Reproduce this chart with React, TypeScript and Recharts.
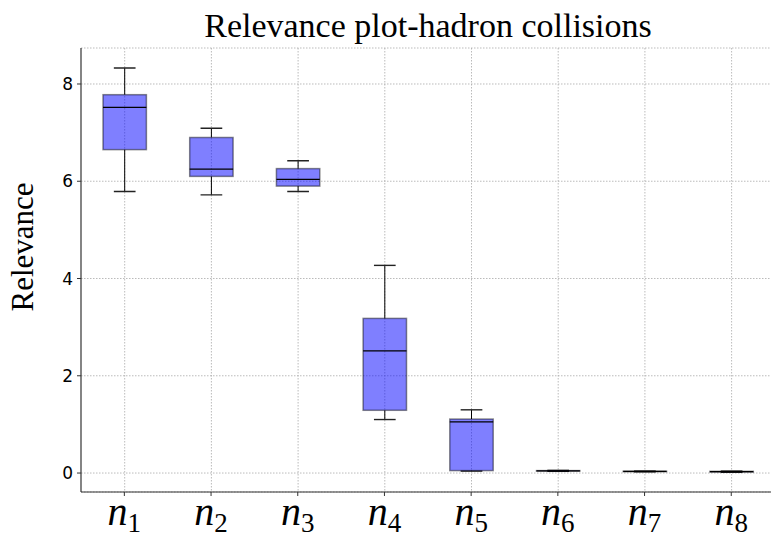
import React from 'react';
import { ComposedChart, Bar, XAxis, YAxis, CartesianGrid } from 'recharts';

// Box plot statistics, one entry per feature n_i
const categories = ['1', '2', '3', '4', '5', '6', '7', '8'];
const whiskerLow = [5.79, 5.72, 5.79, 1.1, 0.04, 0.035, 0.025, 0.015];
const quartile1 = [6.65, 6.1, 5.9, 1.29, 0.05, 0.04, 0.03, 0.02];
const medians = [7.52, 6.25, 6.04, 2.51, 1.05, 0.045, 0.033, 0.027];
const quartile3 = [7.78, 6.9, 6.26, 3.18, 1.11, 0.05, 0.037, 0.035];
const whiskerHigh = [8.33, 7.09, 6.42, 4.27, 1.3, 0.055, 0.04, 0.04];
const yTicks = [0, 2, 4, 6, 8];
const yDomain: [number, number] = [-0.39, 8.74];

const data = categories.map((name, i) => ({
  name,
  low: whiskerLow[i],
  q1: quartile1[i],
  median: medians[i],
  q3: quartile3[i],
  high: whiskerHigh[i],
  range: [whiskerLow[i], whiskerHigh[i]],
}));

const BoxShape = (props: any) => {
  const { x, y, width, height, payload } = props;
  if (payload == null) return null;
  const top = Math.min(y, y + height);
  const bot = Math.max(y, y + height);
  const hi = payload.high;
  const lo = payload.low;
  const span = hi - lo;
  const py = (v: number) => (span > 0 ? top + ((hi - v) / span) * (bot - top) : top);
  const cx = x + width / 2;
  const capHalf = width / 4;
  const yq1 = py(payload.q1);
  const yq3 = py(payload.q3);
  const ymed = py(payload.median);
  return (
    <g>
      <line x1={cx} x2={cx} y1={top} y2={yq3} stroke="#000" strokeWidth={1} />
      <line x1={cx} x2={cx} y1={yq1} y2={bot} stroke="#000" strokeWidth={1} />
      <line x1={cx - capHalf} x2={cx + capHalf} y1={top} y2={top} stroke="#222" strokeWidth={1.4} />
      <line x1={cx - capHalf} x2={cx + capHalf} y1={bot} y2={bot} stroke="#222" strokeWidth={1.4} />
      <rect
        x={x}
        y={yq3}
        width={width}
        height={Math.max(yq1 - yq3, 0.5)}
        fill="rgba(0,0,255,0.5)"
        stroke="rgba(0,0,0,0.45)"
        strokeWidth={1.5}
      />
      <line x1={x} x2={x + width} y1={ymed} y2={ymed} stroke="#000" strokeWidth={1.3} />
    </g>
  );
};

// vertical grid line drawn at each category centre, from the bar background box
const GridLineBg = (props: any) => {
  const { x, y, width, height } = props;
  if (x == null || width == null) return null;
  const cx = x + width / 2;
  return (
    <line
      x1={cx}
      x2={cx}
      y1={y}
      y2={y + height}
      stroke="#aaa"
      strokeWidth={0.8}
      strokeDasharray="1.5 1.5"
    />
  );
};

const XTick = (props: any) => {
  const { x, y, payload } = props;
  return (
    <text x={x} y={y + 27} textAnchor="middle" fontFamily="'Liberation Serif', serif" fill="#000">
      <tspan fontStyle="italic" fontSize={40}>n</tspan>
      <tspan fontSize={27} dy={7}>{payload.value}</tspan>
    </text>
  );
};

export default function App() {
  return (
    <div
      style={{
        position: 'absolute',
        left: 0,
        top: 0,
        width: 771,
        height: 539,
        overflow: 'hidden',
        background: '#fff',
      }}
    >
      <ComposedChart
        width={800}
        height={539}
        data={data}
        margin={{ top: 48, right: 25.4, bottom: 0, left: 0 }}
      >
        <CartesianGrid
          stroke="#aaa"
          strokeWidth={0.8}
          strokeDasharray="1.5 1.5"
          vertical={false}
        />
        <XAxis
          dataKey="name"
          type="category"
          height={47}
          tick={<XTick />}
          tickSize={4}
          tickMargin={2}
          tickLine={{ stroke: '#333' }}
          axisLine={{ stroke: '#333', strokeWidth: 1.2 }}
          interval={0}
        />
        <XAxis
          xAxisId="top"
          dataKey="name"
          orientation="top"
          height={0}
          tick={false}
          tickLine={false}
          axisLine={{ stroke: '#333', strokeWidth: 1.2 }}
        />
        <YAxis
          type="number"
          domain={yDomain}
          ticks={yTicks}
          allowDataOverflow
          width={81}
          tickSize={4}
          tickMargin={4}
          tickLine={{ stroke: '#333' }}
          axisLine={{ stroke: '#333', strokeWidth: 1.2 }}
          tick={{ fontFamily: "'DejaVu Sans', sans-serif", fontSize: 17, fill: '#000' }}
        />
        <Bar
          dataKey="range"
          barSize={43.4}
          shape={<BoxShape />}
          background={<GridLineBg />}
          isAnimationActive={false}
        />
      </ComposedChart>
      <svg
        width={771}
        height={539}
        style={{ position: 'absolute', left: 0, top: 0, pointerEvents: 'none' }}
      >
        <text
          x={428}
          y={37}
          textAnchor="middle"
          fontFamily="'Liberation Serif', serif"
          fontSize={34}
          fill="#000"
        >
          Relevance plot-hadron collisions
        </text>
        <text
          x={33}
          y={247}
          textAnchor="middle"
          transform="rotate(-90, 33, 247)"
          fontFamily="'Liberation Serif', serif"
          fontSize={31}
          fill="#000"
        >
          Relevance
        </text>
      </svg>
    </div>
  );
}
